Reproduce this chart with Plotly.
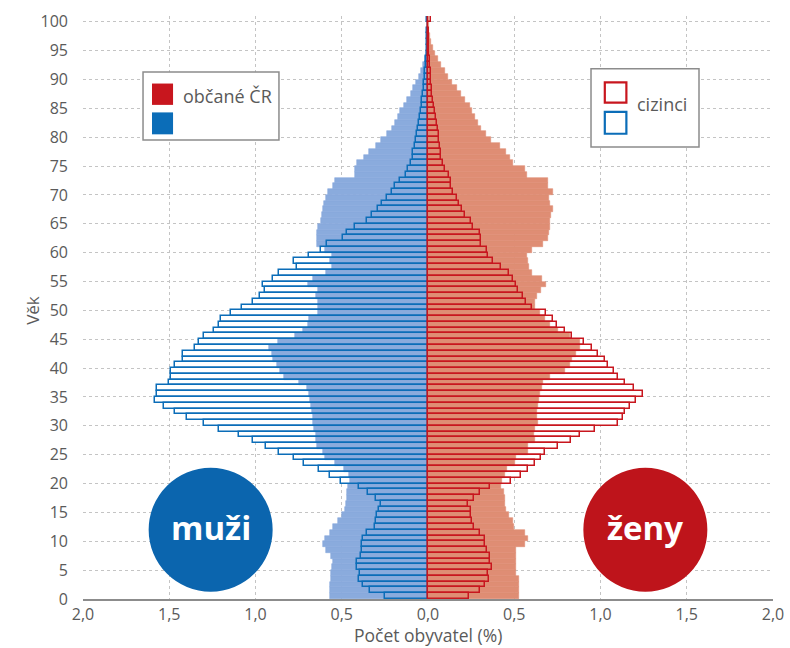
import plotly.graph_objects as go

ages = list(range(101))

# Czech citizens, men (% of population)
cz_men = [0.57,0.57,0.57,0.565,0.56,0.555,0.55,0.56,0.59,0.61,
          0.60,0.57,0.55,0.52,0.50,0.48,0.475,0.47,0.47,0.465,
          0.452,0.458,0.486,0.54,0.60,0.61,0.645,0.65,0.65,0.66,
          0.665,0.668,0.67,0.68,0.684,0.69,0.70,0.75,0.835,0.858,
          0.877,0.897,0.906,0.92,0.868,0.771,0.726,0.694,0.688,0.635,
          0.635,0.64,0.649,0.64,0.694,0.665,0.593,0.555,0.568,0.558,
          0.60,0.642,0.645,0.645,0.636,0.622,0.616,0.61,0.603,0.591,
          0.578,0.549,0.539,0.425,0.425,0.41,0.37,0.34,0.30,0.27,
          0.24,0.21,0.19,0.175,0.16,0.14,0.12,0.10,0.085,0.07,
          0.055,0.042,0.03,0.02,0.013,0.008,0.005,0.003,0.002,0.001,0.001]

# Czech citizens, women
cz_women = [0.525,0.525,0.525,0.525,0.51,0.51,0.51,0.51,0.51,0.56,
            0.58,0.565,0.50,0.49,0.47,0.45,0.446,0.446,0.44,0.425,
            0.427,0.446,0.456,0.505,0.508,0.577,0.58,0.62,0.616,0.62,
            0.636,0.63,0.63,0.64,0.643,0.649,0.663,0.668,0.707,0.794,
            0.823,0.833,0.856,0.88,0.88,0.823,0.751,0.707,0.68,0.649,
            0.62,0.62,0.63,0.655,0.682,0.663,0.601,0.585,0.578,0.572,
            0.601,0.668,0.693,0.70,0.707,0.707,0.713,0.727,0.707,0.70,
            0.727,0.697,0.696,0.576,0.56,0.49,0.473,0.454,0.415,0.363,
            0.338,0.309,0.29,0.27,0.257,0.242,0.216,0.193,0.17,0.139,
            0.116,0.097,0.077,0.058,0.039,0.029,0.019,0.012,0.008,0.005,0.003]

# Foreigners, men
fo_men = [0.247,0.336,0.375,0.398,0.394,0.413,0.413,0.39,0.385,0.383,
          0.375,0.355,0.307,0.30,0.294,0.286,0.274,0.30,0.35,0.40,
          0.506,0.568,0.63,0.719,0.777,0.866,0.939,1.013,1.094,1.21,
          1.30,1.395,1.468,1.53,1.585,1.573,1.573,1.50,1.49,1.49,
          1.467,1.42,1.42,1.35,1.33,1.30,1.24,1.21,1.20,1.144,
          1.076,1.016,0.974,0.943,0.955,0.90,0.864,0.758,0.777,0.688,
          0.622,0.587,0.495,0.471,0.423,0.352,0.326,0.288,0.268,0.236,
          0.21,0.19,0.165,0.128,0.118,0.10,0.089,0.085,0.075,0.07,
          0.062,0.056,0.05,0.046,0.041,0.037,0.033,0.029,0.025,0.021,
          0.018,0.015,0.012,0.01,0.008,0.006,0.005,0.004,0.003,0.002,0.004]

# Foreigners, women
fo_women = [0.238,0.30,0.328,0.352,0.346,0.371,0.36,0.36,0.34,0.33,
            0.33,0.303,0.265,0.255,0.25,0.25,0.233,0.265,0.303,0.36,
            0.483,0.54,0.58,0.62,0.655,0.68,0.755,0.829,0.88,0.968,
            1.103,1.132,1.142,1.17,1.204,1.248,1.196,1.142,1.099,1.08,
            1.041,1.026,0.983,0.949,0.906,0.836,0.794,0.745,0.726,0.682,
            0.60,0.568,0.552,0.52,0.508,0.494,0.47,0.423,0.375,0.35,
            0.34,0.307,0.307,0.301,0.259,0.249,0.214,0.195,0.18,0.166,
            0.147,0.135,0.131,0.12,0.097,0.087,0.077,0.073,0.068,0.064,
            0.062,0.058,0.055,0.048,0.043,0.035,0.029,0.025,0.023,0.02,
            0.018,0.015,0.012,0.01,0.008,0.006,0.005,0.004,0.003,0.002,0.02]

x_tickvals = [-2.0, -1.5, -1.0, -0.5, 0.0, 0.5, 1.0, 1.5, 2.0]
x_ticktext = ["2,0", "1,5", "1,0", "0,5", "0,0", "0,5", "1,0", "1,5", "2,0"]
y_tickvals = list(range(0, 101, 5))

LIGHT_BLUE = "#8aabdd"
LIGHT_RED = "#df8d74"
DARK_BLUE = "#0b6db8"
DARK_RED = "#c8161e"
CIRCLE_BLUE = "#0b65ae"
CIRCLE_RED = "#be141b"
FONT = "Open Sans"
TXT = "#5a5a5a"

ypos = [a + 0.5 for a in ages]
neg = lambda v: [-x for x in v]

fig = go.Figure()

def bar(xv, fill, line_color, line_w):
    fig.add_trace(go.Bar(
        x=xv, y=ypos, orientation="h", width=1,
        marker=dict(color=fill, line=dict(color=line_color, width=line_w)),
        hoverinfo="skip", showlegend=False))

# white backing for foreigner bars (hides grid)
bar(neg(fo_men), "white", "white", 0)
bar(fo_women, "white", "white", 0)
# citizens fill
bar(neg(cz_men), LIGHT_BLUE, LIGHT_BLUE, 0.6)
bar(cz_women, LIGHT_RED, LIGHT_RED, 0.6)
# foreigner outlines
bar(neg(fo_men), "rgba(0,0,0,0)", DARK_BLUE, 1.5)
bar(fo_women, "rgba(0,0,0,0)", DARK_RED, 1.5)

shapes = []
# legend box 1
shapes.append(dict(type="rect", xref="x", yref="y", x0=-1.652, x1=-0.864, y0=79.5, y1=91.3,
                   line=dict(color="#8c8c8c", width=1.5), fillcolor="white", layer="above"))
shapes.append(dict(type="rect", xref="x", yref="y", x0=-1.60, x1=-1.478, y0=85.6, y1=89.3,
                   line=dict(width=0), fillcolor=DARK_RED, layer="above"))
shapes.append(dict(type="rect", xref="x", yref="y", x0=-1.60, x1=-1.478, y0=80.5, y1=84.3,
                   line=dict(width=0), fillcolor=DARK_BLUE, layer="above"))
# legend box 2
shapes.append(dict(type="rect", xref="x", yref="y", x0=0.945, x1=1.571, y0=78.3, y1=91.85,
                   line=dict(color="#8c8c8c", width=1.5), fillcolor="white", layer="above"))
shapes.append(dict(type="rect", xref="x", yref="y", x0=1.025, x1=1.15, y0=86.0, y1=89.5,
                   line=dict(color=DARK_RED, width=2.2), fillcolor="white", layer="above"))
shapes.append(dict(type="rect", xref="x", yref="y", x0=1.025, x1=1.15, y0=80.6, y1=84.4,
                   line=dict(color=DARK_BLUE, width=2.2), fillcolor="white", layer="above"))
# circles
for cx, col in [(-1.26, CIRCLE_BLUE), (1.26, CIRCLE_RED)]:
    shapes.append(dict(type="circle", xref="x", yref="y", xsizemode="pixel", ysizemode="pixel",
                       xanchor=cx, yanchor=12.0, x0=-62, x1=62, y0=-62, y1=62,
                       line=dict(width=0), fillcolor=col, layer="above"))

annotations = [
    dict(x=-1.432, y=87.2, xref="x", yref="y", text="občané ČR", showarrow=False,
         xanchor="left", yanchor="middle", font=dict(family=FONT, size=18, color=TXT)),
    dict(x=1.20, y=85.8, xref="x", yref="y", text="cizinci", showarrow=False,
         xanchor="left", yanchor="middle", font=dict(family=FONT, size=18, color=TXT)),
    dict(x=-1.26, y=12.4, xref="x", yref="y", text="<b>muži</b>", showarrow=False,
         xanchor="center", yanchor="middle", font=dict(family=FONT, size=33, color="white")),
    dict(x=1.26, y=12.4, xref="x", yref="y", text="<b>ženy</b>", showarrow=False,
         xanchor="center", yanchor="middle", font=dict(family=FONT, size=33, color="white")),
    dict(x=0.5, y=-0.061, xref="paper", yref="paper", text="Počet obyvatel (%)", showarrow=False,
         xanchor="center", yanchor="middle", font=dict(family=FONT, size=17.5, color=TXT)),
    dict(x=-0.0725, y=0.496, xref="paper", yref="paper", text="Věk", showarrow=False,
         textangle=-90, xanchor="center", yanchor="middle", font=dict(family=FONT, size=17, color=TXT)),
]

fig.update_layout(
    width=790, height=648,
    margin=dict(l=83, r=17, t=16, b=49),
    paper_bgcolor="white", plot_bgcolor="white",
    barmode="overlay", bargap=0,
    shapes=shapes, annotations=annotations,
    showlegend=False,
    font=dict(family=FONT, size=16, color=TXT),
    xaxis=dict(range=[-2, 2], tickvals=x_tickvals, ticktext=x_ticktext,
               showgrid=True, gridcolor="#c4c4c4", griddash="dot", gridwidth=1,
               zeroline=False, showline=True, linecolor="#8c8c8c", linewidth=1.5,
               ticks="", ticklabelstandoff=0, automargin=False, ticklabeloverflow="allow",
               tickfont=dict(size=16, color=TXT)),
    yaxis=dict(range=[0, 101], tickvals=y_tickvals,
               showgrid=True, gridcolor="#c4c4c4", griddash="dot", gridwidth=1,
               zeroline=False, showline=False, ticks="", ticklabelstandoff=14,
               automargin=False, ticklabeloverflow="allow", tickfont=dict(size=16, color=TXT)),
)

# remove the default 8px page margin so the 790x648 figure fills the window exactly
fig.write_html("out.html", config={"displayModeBar": False},
               post_script="document.body.style.margin='0px';document.body.style.overflow='hidden';")
